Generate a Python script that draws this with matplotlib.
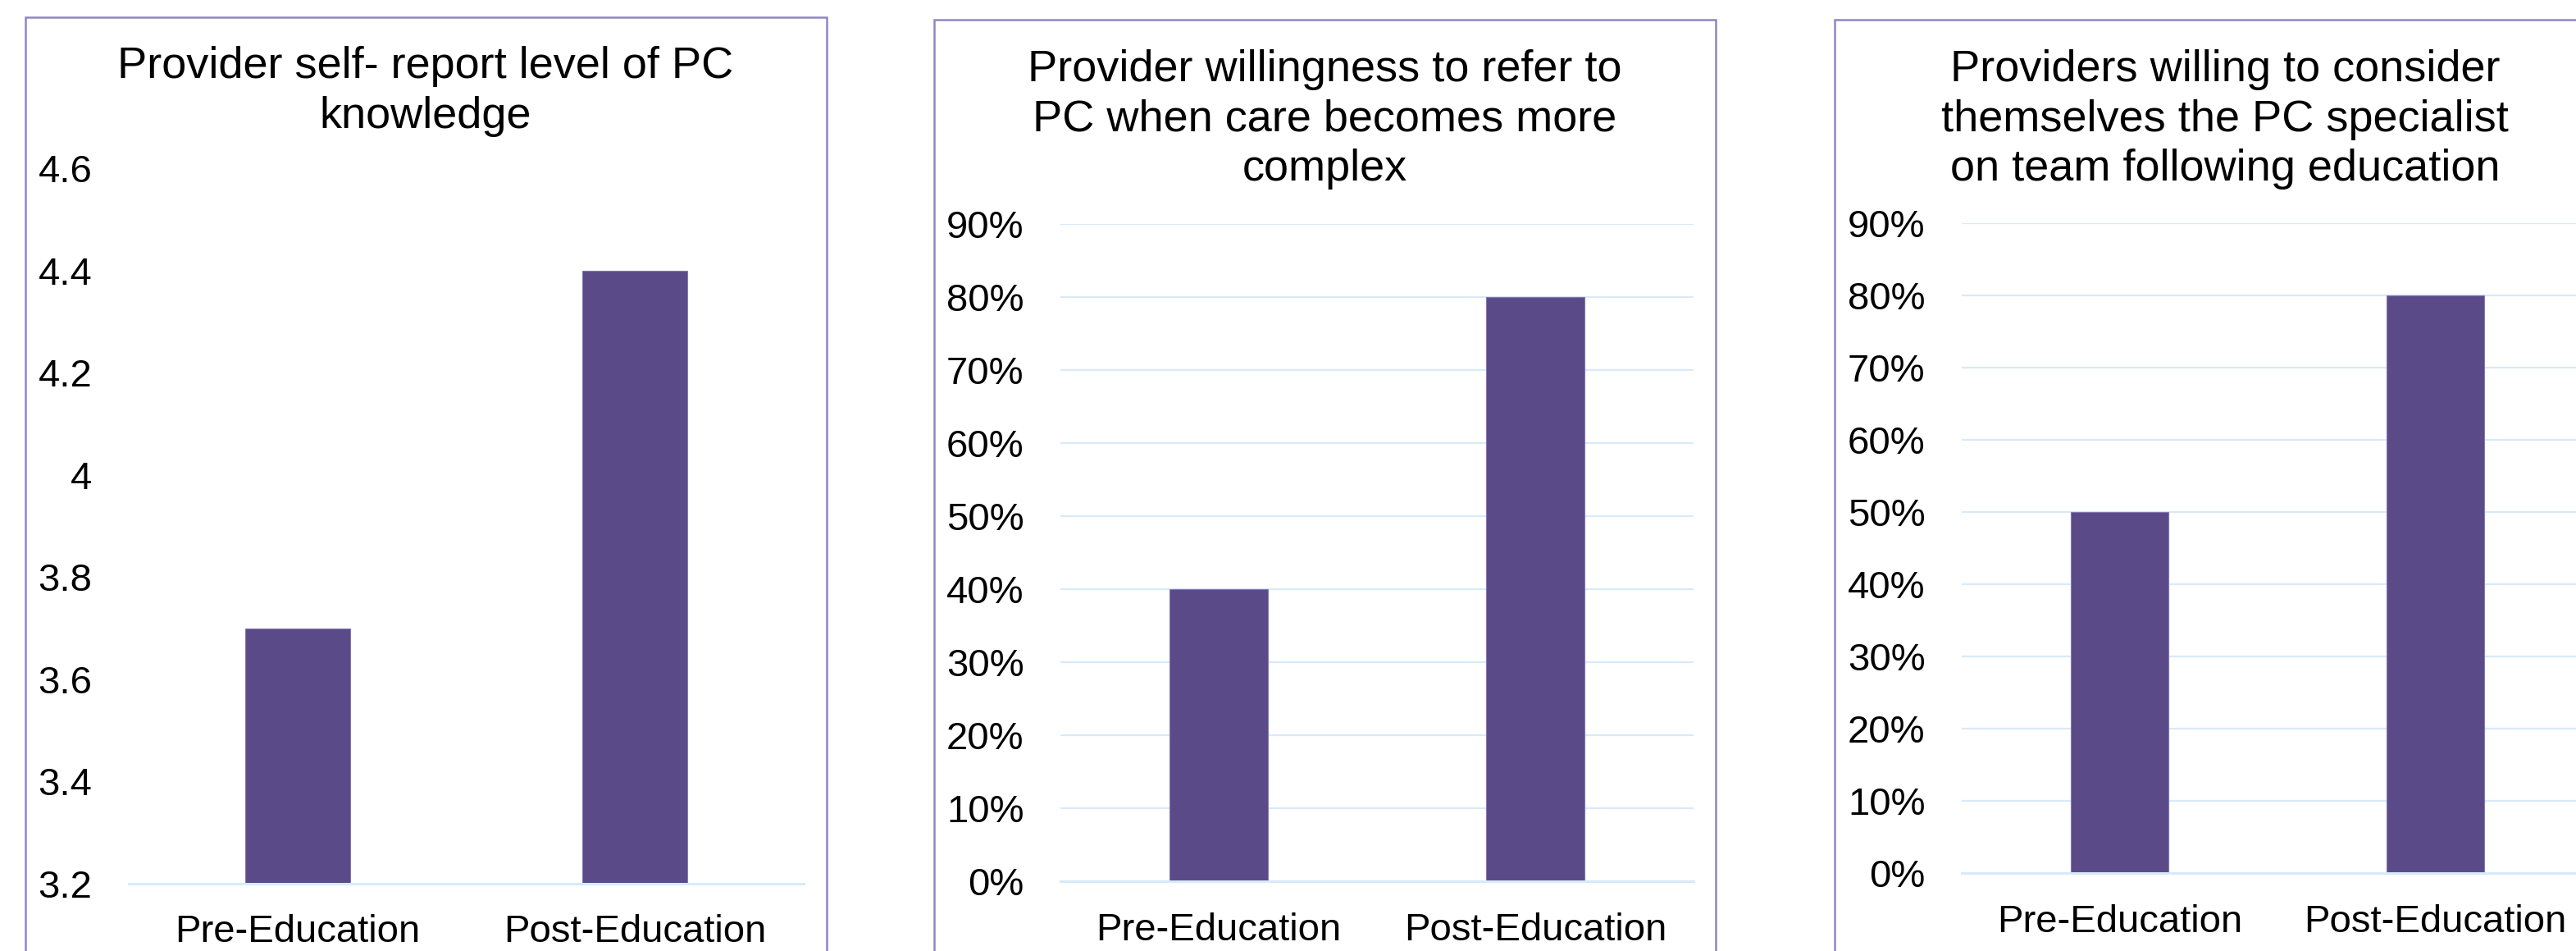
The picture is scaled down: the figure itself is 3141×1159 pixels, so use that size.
import matplotlib
matplotlib.use("Agg")
import matplotlib.pyplot as plt
from matplotlib import patches
from matplotlib.ticker import FuncFormatter

plt.rcParams['font.family'] = ['Liberation Sans', 'DejaVu Sans']

# data
categories = ["Pre-Education", "Post-Education"]
knowledge = [3.7, 4.4]
refer_pct = [0.40, 0.80]
specialist_pct = [0.50, 0.80]

titles = [
    "Provider self- report level of PC\nknowledge",
    "Provider willingness to refer to\nPC when care becomes more\ncomplex",
    "Providers willing to consider\nthemselves the PC specialist\non team following education",
]

W, H = 3141, 1159
BAR = '#5A4A87'
GRID = '#D8EAF9'
FRAME = '#8F86C6'

fig = plt.figure(figsize=(W / 100, H / 100), dpi=100)


def px_axes(left, right, top, bottom):
    return fig.add_axes([left / W, 1 - bottom / H, (right - left) / W, (bottom - top) / H])


def frame(left, right, top):
    rect = patches.Rectangle((left / W, -0.2), (right - left) / W, 1 - top / H + 0.2,
                             transform=fig.transFigure, fill=False,
                             edgecolor=FRAME, linewidth=1.8)
    fig.patches.append(rect)


def style(ax, ylim, ticks, fmt, grid):
    ax.set_ylim(*ylim)
    ax.set_xlim(-0.5, 1.5)
    ax.set_yticks(ticks)
    ax.yaxis.set_major_formatter(FuncFormatter(fmt))
    ax.set_xticks(range(len(categories)))
    ax.set_xticklabels(categories)
    for s in ['top', 'right', 'left']:
        ax.spines[s].set_visible(False)
    ax.spines['bottom'].set_color(GRID)
    ax.spines['bottom'].set_linewidth(2.2)
    ax.tick_params(axis='both', length=0, labelsize=34)
    ax.tick_params(axis='y', pad=32)
    ax.tick_params(axis='x', pad=27)
    if grid:
        ax.yaxis.grid(True, color=GRID, linewidth=1.6)
    ax.set_axisbelow(True)
    ax.patch.set_alpha(0)


# frames around each chart
frame(31, 1008, 21)
frame(1139, 2092, 24)
frame(2237, 3190, 24)

# panel 1
ax1 = px_axes(157, 980, 205, 1077)
ax1.bar(range(len(categories)), knowledge, width=0.31, color=BAR, edgecolor='#8478B8', linewidth=0.8)
style(ax1, (3.2, 4.6), [3.2, 3.4, 3.6, 3.8, 4.0, 4.2, 4.4, 4.6],
      lambda v, p: f"{v:g}", grid=False)

# panel 2
ax2 = px_axes(1293, 2065, 273, 1074)
ax2.bar(range(len(categories)), refer_pct, width=0.31, color=BAR, edgecolor='#8478B8', linewidth=0.8)
style(ax2, (0, 0.9), [i / 10 for i in range(10)],
      lambda v, p: f"{v * 100:.0f}%", grid=True)

# panel 3
ax3 = px_axes(2392, 3162, 272, 1064)
ax3.bar(range(len(categories)), specialist_pct, width=0.31, color=BAR, edgecolor='#8478B8', linewidth=0.8)
style(ax3, (0, 0.9), [i / 10 for i in range(10)],
      lambda v, p: f"{v * 100:.0f}%", grid=True)

# titles
fig.text(519 / W, 1 - 56 / H, titles[0], ha='center', va='top', fontsize=39, linespacing=1.27)
fig.text(1615 / W, 1 - 60 / H, titles[1], ha='center', va='top', fontsize=39, linespacing=1.27)
fig.text(2713 / W, 1 - 60 / H, titles[2], ha='center', va='top', fontsize=39, linespacing=1.27)

fig.savefig("out.png", dpi=100, facecolor='white')
